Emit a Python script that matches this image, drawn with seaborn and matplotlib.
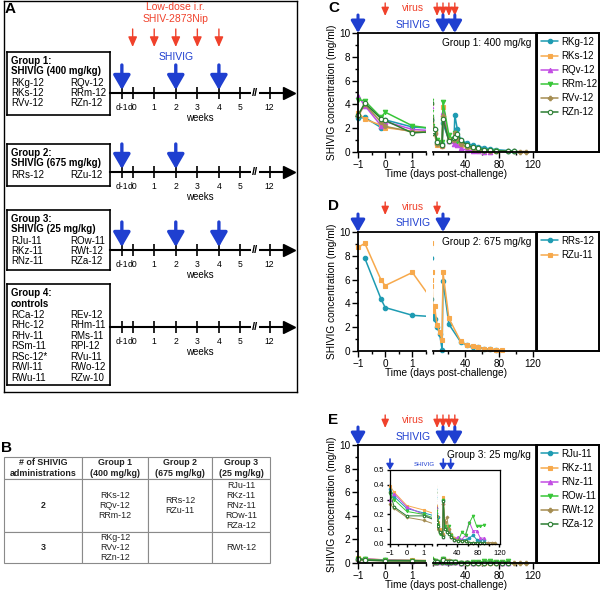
import numpy as np
import pandas as pd
import matplotlib
matplotlib.use("Agg")
import matplotlib.pyplot as plt
import seaborn as sns
from matplotlib.transforms import offset_copy, Bbox, TransformedBbox
from matplotlib.ticker import FixedLocator

sns.set_theme(style="ticks")
plt.rcParams["font.family"] = ["Liberation Sans", "DejaVu Sans"]
plt.rcParams.update({"axes.edgecolor": "black", "xtick.color": "black", "ytick.color": "black",
                     "text.color": "black", "axes.labelcolor": "black"})

BLUE = "#1f3fd0"
RED = "#f0412b"
COLORS = ["#1d9bb2", "#f7a94c", "#c24de3", "#38c638", "#a58d52", "#2b7d32"]
MARKS = ["o", "s", "^", "v", "P", "o"]
FILLED = [True, True, True, True, True, False]
nan = np.nan

# ---- panel A: study design ----
tl_pos = [-0.5, 0, 1, 2, 3, 4, 5, 6.35]
tl_labels = ["d-1", "d0", "1", "2", "3", "4", "5", "12"]
challenge_weeks = [0, 1, 2, 3, 4]
group_titles = ["Group 1:", "Group 2:", "Group 3:", "Group 4:"]
group_subtitles = ["SHIVIG (400 mg/kg)", "SHIVIG (675 mg/kg)", "SHIVIG (25 mg/kg)", "controls"]
group_left = [["RKg-12", "RKs-12", "RVv-12"], ["RRs-12"], ["RJu-11", "RKz-11", "RNz-11"],
              ["RCa-12", "RHc-12", "RHv-11", "RSm-11", "RSc-12*", "RWl-11", "RWu-11"]]
group_right = [["RQv-12", "RRm-12", "RZn-12"], ["RZu-12"], ["ROw-11", "RWt-12", "RZa-12"],
               ["REv-12", "RHm-11", "RMs-11", "RPl-12", "RVu-11", "RWo-12", "RZw-10"]]
group_dose_weeks = [[-0.5, 2, 4], [-0.5, 2], [-0.5, 2, 4], []]

# ---- panel B: table ----
tab_header = ["# of SHIVIG\nadministrations", "Group 1\n(400 mg/kg)", "Group 2\n(675 mg/kg)", "Group 3\n(25 mg/kg)"]
tab_rows = [["2", "RKs-12\nRQv-12\nRRm-12", "RRs-12\nRZu-11", "RJu-11\nRKz-11\nRNz-11\nROw-11\nRZa-12"],
            ["3", "RKg-12\nRVv-12\nRZn-12", "", "RWt-12"]]

# ---- panel C: group 1, 400 mg/kg ----
c_names = ["RKg-12", "RKs-12", "RQv-12", "RRm-12", "RVv-12", "RZn-12"]
c_days = [-1, -0.75, -0.15, 0, 1, 2, 4, 7, 13, 14, 21, 27, 28, 31, 35, 42, 49, 56, 63, 70, 77, 91, 98, 105, 112]
c_vals = [
    [2.85, 2.9, 2.05, 2.7, 2.1, 1.95, 1.85, 0.85, 0.7, 2.4, 1.0, 0.9, 3.1, 1.9, 1.0, 0.75, 0.55, 0.45, 0.35, 0.25, 0.2, 0.12, 0.1, nan, nan],
    [3.3, 2.75, 2.25, 2.05, 1.75, 1.6, 1.6, 0.6, 0.5, 3.8, 1.0, 0.9, 1.2, 0.9, 0.6, 0.4, 0.25, 0.15, 0.1, 0.08, 0.05, nan, nan, nan, nan],
    [4.7, 3.9, 2.2, 2.55, 1.9, 1.75, 1.7, 0.9, 0.6, 3.4, 0.9, 0.7, 1.0, 0.6, 0.3, 0.15, 0.1, 0.06, 0.04, 0.03, nan, nan, nan, nan, nan],
    [4.4, 4.3, 2.9, 3.35, 2.2, 1.9, 1.8, 1.0, 0.8, 4.2, 1.4, 1.0, 1.6, 0.9, 0.7, 0.4, 0.25, 0.15, 0.1, 0.08, 0.05, nan, nan, nan, nan],
    [3.0, 4.0, 2.5, 2.15, 1.7, 1.6, 1.6, 0.7, 0.5, 3.0, 0.9, 1.0, 1.6, 1.2, 0.7, 0.45, 0.3, 0.2, 0.15, 0.1, 0.07, 0.05, 0.05, 0.04, 0.04],
    [3.1, 4.1, 2.8, 2.65, 1.6, 1.75, 1.9, 0.8, 0.6, 2.8, 0.9, 1.2, 1.3, 1.5, 1.0, 0.6, 0.4, 0.3, 0.2, 0.15, 0.1, 0.08, 0.06, nan, nan],
]

# ---- panel D: group 2, 675 mg/kg ----
d_names = ["RRs-12", "RZu-11"]
d_days = [-1, -0.75, -0.15, 0, 1, 2, 4, 7, 10, 13, 14, 21, 35, 42, 49, 56, 63, 70, 77, 84]
d_vals = [
    [nan, 7.8, 4.35, 3.65, 3.0, 2.85, 2.7, 2.05, 1.45, 0.1, 5.9, 2.25, 0.75, 0.5, 0.3, 0.3, 0.2, 0.15, 0.1, nan],
    [8.7, 9.05, 5.95, 5.5, 6.6, 3.4, 3.75, 2.2, 1.6, 0.95, 6.6, 2.75, 0.8, 0.5, 0.4, 0.3, 0.2, 0.15, 0.1, 0.1],
]

# ---- panel E: group 3, 25 mg/kg ----
e_names = ["RJu-11", "RKz-11", "RNz-11", "ROw-11", "RWt-12", "RZa-12"]
e_days = [-1, -0.75, 0, 1, 2, 4, 7, 13, 14, 17, 21, 24, 28, 35, 42, 49, 56, 63, 70, 77, 84, 91, 98, 105, 112]
e_vals = [
    [0.37, 0.32, 0.24, 0.21, 0.18, 0.18, 0.09, 0.06, 0.30, 0.12, 0.10, 0.08, 0.06, 0.04, 0.03, 0.03, 0.03, 0.04, 0.06, 0.03, 0.03, 0.03, nan, nan, nan],
    [0.39, 0.35, 0.26, 0.23, 0.19, 0.15, 0.10, 0.07, 0.32, 0.15, 0.12, 0.10, 0.07, 0.04, 0.03, 0.02, 0.02, 0.01, 0.01, 0.01, 0.01, nan, nan, nan, nan],
    [0.30, 0.34, 0.25, 0.20, 0.14, 0.12, 0.08, 0.05, 0.28, 0.12, 0.10, 0.08, 0.05, 0.03, 0.05, 0.03, 0.06, 0.15, 0.09, 0.09, 0.04, 0.04, nan, nan, nan],
    [0.34, 0.30, 0.22, 0.20, 0.16, 0.13, 0.07, 0.05, 0.30, 0.12, 0.10, 0.12, 0.06, 0.03, 0.02, 0.08, 0.06, 0.14, 0.19, 0.12, 0.12, 0.13, nan, nan, nan],
    [0.27, 0.24, 0.18, 0.16, 0.12, 0.10, 0.08, 0.06, 0.27, 0.15, 0.18, 0.10, 0.05, 0.03, 0.02, 0.02, 0.02, 0.01, 0.01, 0.01, 0.01, 0.01, 0.01, 0.01, 0.01],
    [0.35, 0.25, 0.19, 0.19, 0.15, 0.12, 0.08, 0.05, 0.29, 0.10, 0.08, 0.07, 0.05, 0.03, 0.02, 0.02, 0.02, 0.01, 0.01, 0.01, 0.01, 0.01, nan, nan, nan],
]

virus_days_full = [0, 7, 14, 21, 28]
dose_days_full = [-1, 14, 28]
virus_days_d = [0, 7]
dose_days_d = [-1, 14]

W, H = 600, 590
fig = plt.figure(figsize=(6, 5.9), dpi=100)


def box(x0, y0, x1, y1):
    return [x0 / W, 1 - y1 / H, (x1 - x0) / W, (y1 - y0) / H]


def ftext(x, y, s, **kw):
    fig.text(x / W, 1 - y / H, s, **kw)


def long_frame(days, names, vals):
    df = pd.DataFrame({"day": np.tile(days, len(names)),
                       "animal": np.repeat(names, len(days)),
                       "conc": np.concatenate([np.asarray(v, float) for v in vals])})
    return df.dropna()


# ================= Panel A =================
axA = fig.add_axes(box(4, 1, 297, 392))
axA.set_xticks([]); axA.set_yticks([])
for s in axA.spines.values():
    s.set_linewidth(1.0)
ftext(10, 9, "A", fontsize=11, fontweight="bold", ha="center", va="center")

group_box = [(7, 52, 110, 115), (7, 144, 110, 186), (7, 210, 110, 270), (7, 284, 110, 385)]
timeline_y = [93, 172, 250, 327]

for i in range(4):
    x0, y0, x1, y1 = group_box[i]
    gb = fig.add_axes(box(x0, y0, x1, y1))
    gb.set_xlim(0, x1 - x0); gb.set_ylim(y1 - y0, 0)
    gb.set_xticks([]); gb.set_yticks([])
    for s in gb.spines.values():
        s.set_linewidth(1.2)
    gb.text(4, 9, group_titles[i], fontsize=7, fontweight="bold", va="center")
    gb.text(4, 19.5, group_subtitles[i], fontsize=7, fontweight="bold", va="center")
    for k, (a, b) in enumerate(zip(group_left[i], group_right[i])):
        gb.text(4, 30.5 + 10.5 * k, a, fontsize=7, va="center")
        gb.text(63, 30.5 + 10.5 * k, b, fontsize=7, va="center")

    ty = timeline_y[i]
    top = 0 if i == 0 else ty - 40
    tl = fig.add_axes(box(110, top, 289, ty))
    tl.set_facecolor("none")
    tl.set_xlim(-1.05, 7.25); tl.set_ylim(0, ty - top)
    for s in ["left", "right", "top"]:
        tl.spines[s].set_visible(False)
    tl.spines["bottom"].set_linewidth(1.5)
    tl.set_yticks([])
    tl.set_xticks(tl_pos, tl_labels)
    tl.tick_params(axis="x", direction="inout", length=8, width=1.2, labelsize=6.2, pad=3)
    tl.set_xlabel("weeks", fontsize=7, labelpad=1)
    tl.plot([tl.get_xlim()[1]], [0], marker=">", ms=8, color="black", clip_on=False)
    tl.text(5.67, 0, "//", ha="center", va="center", fontsize=8, fontweight="bold",
            bbox=dict(fc="white", ec="none", pad=0.5))
    for w in group_dose_weeks[i]:
        tl.annotate("", xy=(w, 3), xytext=(w, 28),
                    arrowprops=dict(arrowstyle="-|>,head_length=0.55,head_width=0.32", color=BLUE,
                                    lw=2.4, mutation_scale=16, shrinkA=0, shrinkB=0))
    if i == 0:
        for w in challenge_weeks:
            tl.annotate("", xy=(w, 46), xytext=(w, 64),
                        arrowprops=dict(arrowstyle="-|>,head_length=0.5,head_width=0.22", color=RED,
                                        lw=1.0, mutation_scale=12, shrinkA=0, shrinkB=0))
        tl.text(2, 85.5, "Low-dose i.r.", color=RED, ha="center", va="center", fontsize=7.5)
        tl.text(2, 74.5, "SHIV-2873Nip", color=RED, ha="center", va="center", fontsize=7.5)
        tl.text(2, 35.5, "SHIVIG", color=BLUE, ha="center", va="center", fontsize=7.5)

# ================= Panel B =================
ftext(6, 448, "B", fontsize=11, fontweight="bold", ha="center", va="center")
axB = fig.add_axes(box(4, 457, 270, 563))
axB.axis("off")
tbl = axB.table(cellText=tab_rows, colLabels=tab_header, cellLoc="center", bbox=[0, 0, 1, 1])
tbl.auto_set_font_size(False)
tbl.set_fontsize(6.4)
col_w = [78, 66, 64, 58]
row_h = [22, 53, 31]
for (r, c), cell in tbl.get_celld().items():
    cell.set_width(col_w[c]); cell.set_height(row_h[r])
    cell.set_edgecolor("#8a8a8a"); cell.set_linewidth(0.8)
    t = cell.get_text()
    t.set_linespacing(1.15)
    t.set_color("#222222")
    if r == 0 or c == 0:
        t.set_fontweight("bold")


# ================= Panels C, D, E =================
def draw_lines(ax, df, names, ms, lw, xclip):
    n = len(names)
    sns.lineplot(data=df, x="day", y="conc", hue="animal", style="animal",
                 hue_order=names, style_order=names,
                 palette=dict(zip(names, COLORS[:n])), markers=dict(zip(names, MARKS[:n])),
                 dashes=False, estimator=None, errorbar=None, sort=True, legend=False,
                 ax=ax, linewidth=lw, markersize=ms)
    for line, filled in zip(ax.lines, FILLED[:n]):
        line.set_markeredgecolor(line.get_color())
        line.set_markeredgewidth(0.8)
        if not filled:
            line.set_markerfacecolor("white")
        line.set_clip_box(TransformedBbox(Bbox([[xclip[0], -0.05], [xclip[1], 1.03]]), ax.transAxes))
    ax.set_xlabel(""); ax.set_ylabel("")


def broken_axes(x0, xm0, xm1, x1, top, bottom, llim, rlim, ylim, fs, maj, mnr, spw, face="none"):
    frame = fig.add_axes(box(x0, top, x1, bottom))
    frame.set_facecolor(face)
    frame.set_xticks([]); frame.set_yticks([])
    frame.spines["left"].set_visible(False); frame.spines["bottom"].set_visible(False)
    frame.spines["top"].set_linewidth(spw); frame.spines["right"].set_linewidth(spw)
    axl = fig.add_axes(box(x0, top, xm0, bottom))
    axr = fig.add_axes(box(xm1, top, x1, bottom))
    for ax, lim in ((axl, llim), (axr, rlim)):
        ax.set_facecolor("none")
        ax.set_xlim(*lim); ax.set_ylim(*ylim)
        ax.spines["top"].set_visible(False); ax.spines["right"].set_visible(False)
        ax.spines["bottom"].set_linewidth(spw)
        ax.tick_params(which="major", direction="out", length=maj, width=1, labelsize=fs, pad=1.5)
        ax.tick_params(which="minor", direction="out", length=mnr, width=1)
    axl.spines["left"].set_linewidth(spw)
    axr.spines["left"].set_visible(False)
    axr.tick_params(axis="y", which="both", left=False, labelleft=False)
    axl.set_xticks([-1, 0, 1])
    axl.xaxis.set_minor_locator(FixedLocator([-0.5, 0.5, 1.5]))
    axr.set_xticks([40, 80, 120])
    axr.xaxis.set_minor_locator(FixedLocator([rlim[0], 20, 60, 100]))
    return frame, axl, axr


def top_arrow(ax, day, tip, tail, color, lw, hl, hw, ms):
    tr = offset_copy(ax.get_xaxis_transform(), fig=fig, x=0, y=tip, units="dots")
    ax.annotate("", xy=(day, 1), xycoords=tr, xytext=(0, tail - tip), textcoords="offset pixels",
                arrowprops=dict(arrowstyle=f"-|>,head_length={hl},head_width={hw}", color=color,
                                lw=lw, mutation_scale=ms, shrinkA=0, shrinkB=0))


def conc_panel(letter, top, bottom, days, names, vals, title, virus_days, dose_days):
    df = long_frame(days, names, vals)
    frame, axl, axr = broken_axes(358, 426, 433, 536, top, bottom, (-1, 1.5), (2.2, 124), (0, 10),
                                  7.2, 4, 2.5, 1.3)
    axl.set_yticks([0, 2, 4, 6, 8, 10])
    axl.yaxis.set_minor_locator(FixedLocator([1, 3, 5, 7, 9]))
    draw_lines(axl, df, names, 3.2, 1.1, (-0.08, 1.0))
    draw_lines(axr, df, names, 3.2, 1.1, (0.0, 1.0))

    for d in virus_days:
        top_arrow(axl if d < 1.5 else axr, d, 17, 30, RED, 1.0, 0.5, 0.22, 10)
    for d in dose_days:
        top_arrow(axl if d < 1.5 else axr, d, 0, 18, BLUE, 2.2, 0.55, 0.32, 13)
    ftext(413, top - 25, "virus", color=RED, fontsize=7.5, ha="center", va="center")
    ftext(413, top - 8.5, "SHIVIG", color=BLUE, fontsize=7.5, ha="center", va="center")
    ftext(333.5, top - 25.5, letter, fontsize=11, fontweight="bold", ha="center", va="center")
    ftext(531, top + 10, title, fontsize=7.3, ha="right", va="center")
    ftext(332, (top + bottom) / 2, "SHIVIG concentration (mg/ml)", fontsize=7.3, rotation=90,
          ha="center", va="center")
    ftext(446, bottom + 22, "Time (days post-challenge)", fontsize=7.3, ha="center", va="center")

    lax = fig.add_axes(box(537, top, 599, bottom))
    lax.set_xticks([]); lax.set_yticks([])
    for s in lax.spines.values():
        s.set_linewidth(1.4)
    lax.legend(axl.lines[:len(names)], names, loc="upper left", bbox_to_anchor=(0, 1),
               frameon=False, fontsize=7.0, handlelength=1.8, handletextpad=0.25,
               labelspacing=0.42, borderaxespad=0.1, borderpad=0.3)
    return df


conc_panel("C", 33, 152, c_days, c_names, c_vals, "Group 1: 400 mg/kg", virus_days_full, dose_days_full)
conc_panel("D", 232, 351, d_days, d_names, d_vals, "Group 2: 675 mg/kg", virus_days_d, dose_days_d)
e_df = conc_panel("E", 445, 563, e_days, e_names, e_vals, "Group 3: 25 mg/kg", virus_days_full, dose_days_full)

# inset of panel E (zoomed 0-0.5 mg/ml)
iframe, il, ir = broken_axes(390, 432, 437, 500, 470, 544, (-1, 1.5), (2.2, 121), (0, 0.5),
                             5.5, 2.5, 1.5, 0.9, face="white")
il.set_yticks([0, 0.1, 0.2, 0.3, 0.4, 0.5], ["0.0", "0.1", "0.2", "0.3", "0.4", "0.5"])
draw_lines(il, e_df, e_names, 1.8, 0.7, (-0.08, 1.0))
draw_lines(ir, e_df, e_names, 1.8, 0.7, (0.0, 1.0))
for d in dose_days_full:
    top_arrow(il if d < 1.5 else ir, d, 0, 11, BLUE, 1.2, 0.5, 0.3, 7)
ftext(424, 465, "SHIVIG", color=BLUE, fontsize=4.5, ha="center", va="center")

fig.savefig("out.png", dpi=100)
